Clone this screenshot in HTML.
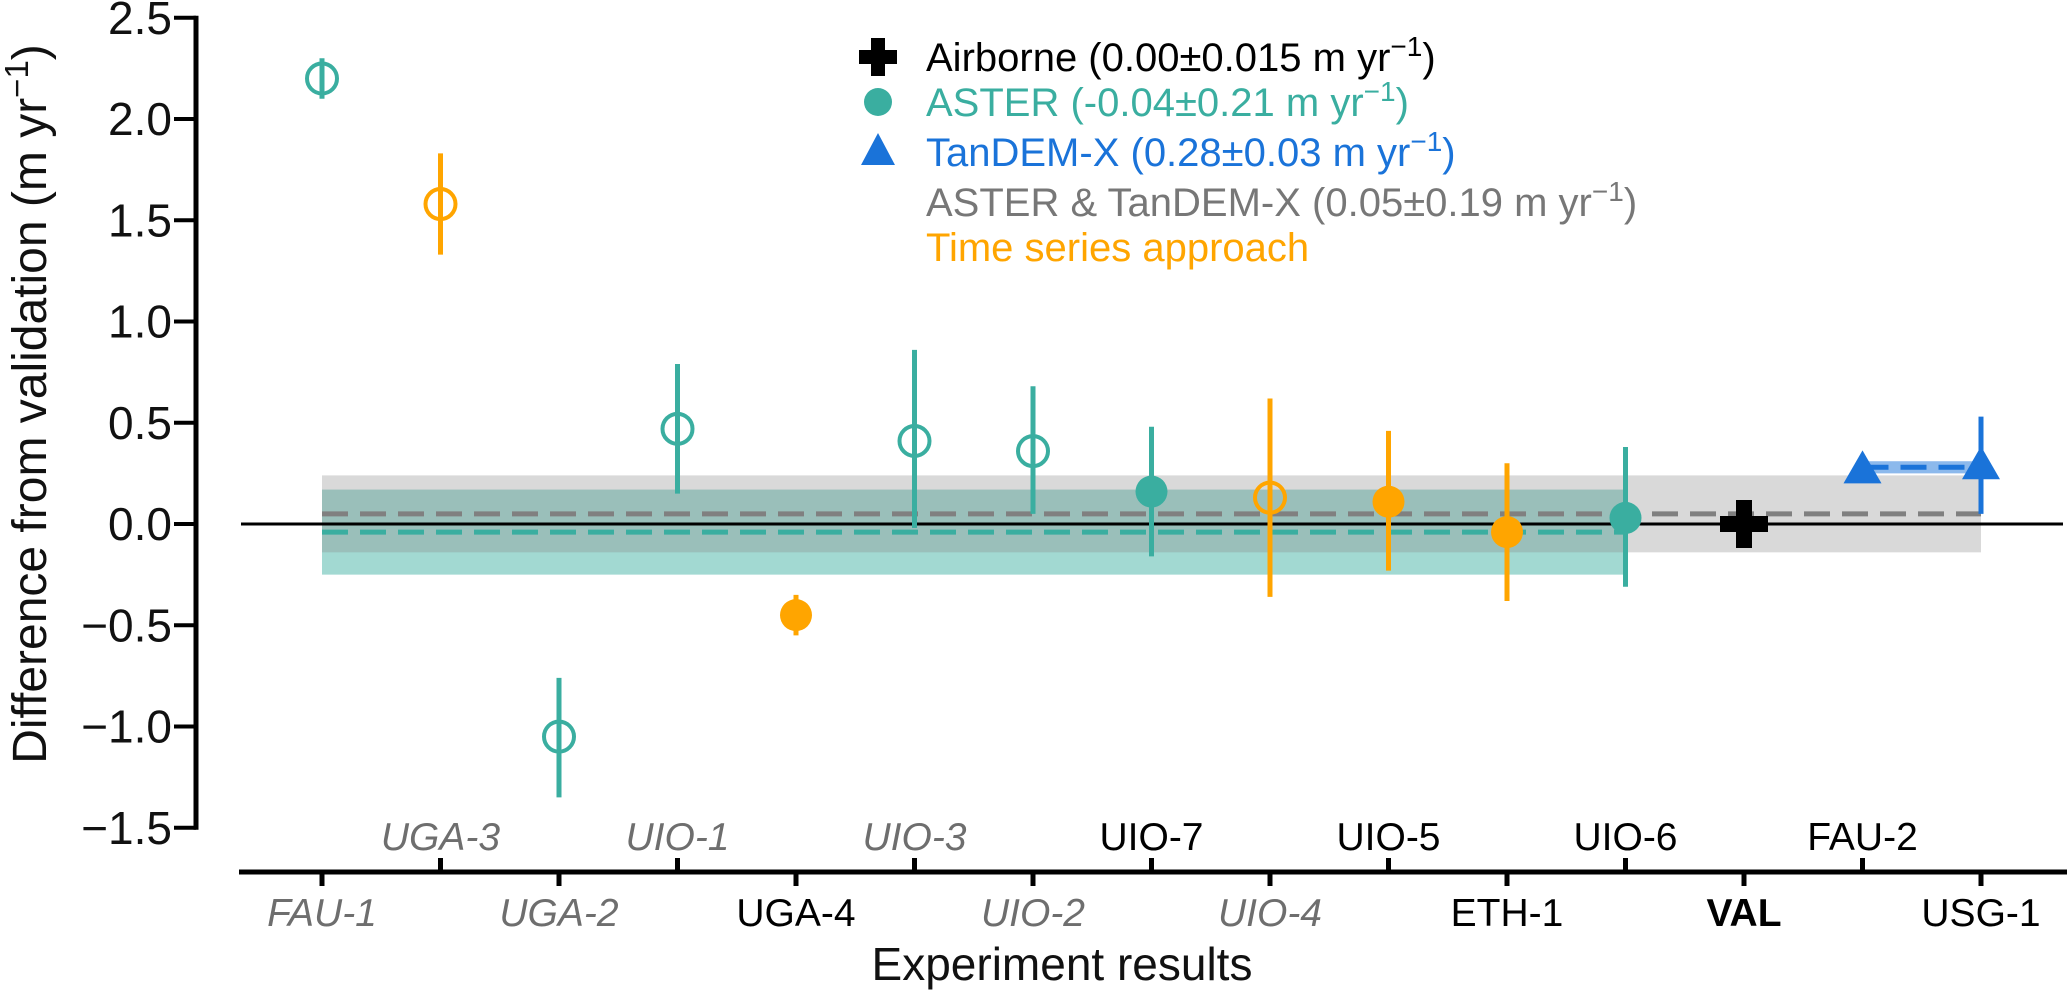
<!DOCTYPE html>
<html><head><meta charset="utf-8"><style>
html,body{margin:0;padding:0;background:#fff;}
svg{display:block;font-family:"Liberation Sans",sans-serif;}
</style></head><body>
<svg id="chart" width="2067" height="990" viewBox="0 0 2067 990"></svg>
<script>
const categories=["FAU-1","UGA-3","UGA-2","UIO-1","UGA-4","UIO-3","UIO-2","UIO-7","UIO-4","UIO-5","ETH-1","UIO-6","VAL","FAU-2","USG-1"];
const values=[2.20,1.58,-1.05,0.47,-0.45,0.41,0.36,0.16,0.13,0.11,-0.04,0.03,0.00,0.26,0.28];
const errLow=[2.10,1.33,-1.35,0.15,-0.55,-0.02,0.05,-0.16,-0.36,-0.23,-0.38,-0.31,0,0.26,0.05];
const errHigh=[2.30,1.83,-0.76,0.79,-0.35,0.86,0.68,0.48,0.62,0.46,0.30,0.38,0,0.26,0.53];
const kinds=["teal-open","orange-open","teal-open","teal-open","orange-fill","teal-open","teal-open","teal-fill","orange-open","orange-fill","orange-fill","teal-fill","plus","tri","tri"];
const labelStyle=["gray-it","gray-it","gray-it","gray-it","black","gray-it","gray-it","black","gray-it","black","black","black","bold","black","black"];
const yTicks=[2.5,2.0,1.5,1.0,0.5,0.0,-0.5,-1.0,-1.5];
const asterMean=-0.04, asterStd=0.21;
const combMean=0.05, combStd=0.19;
const tdxMean=0.28, tdxStd=0.03;

const NS="http://www.w3.org/2000/svg";
const svg=document.getElementById('chart');
const X0=322, DX=118.5;
const Y0=524, PY=202.5;
const xs=i=>X0+i*DX;
const ys=v=>Y0-v*PY;
const TEAL="#3aaea0", ORANGE="#ffa500", BLUE="#1a73d9", GRAY="#808080";
function el(tag,attrs,parent){const e=document.createElementNS(NS,tag);for(const k in attrs)e.setAttribute(k,attrs[k]);(parent||svg).appendChild(e);return e;}

let b=el('rect',{x:xs(0),y:ys(asterMean+asterStd),width:xs(11)-xs(0),height:ys(asterMean-asterStd)-ys(asterMean+asterStd),fill:TEAL,'fill-opacity':0.47});

b=el('rect',{x:xs(0),y:ys(combMean+combStd),width:xs(14)-xs(0),height:ys(combMean-combStd)-ys(combMean+combStd),fill:'#888','fill-opacity':0.32});

b=el('rect',{x:xs(13),y:ys(tdxMean+tdxStd),width:xs(14)-xs(13),height:ys(tdxMean-tdxStd)-ys(tdxMean+tdxStd),fill:BLUE,'fill-opacity':0.5});

b=el('line',{x1:241,x2:2063,y1:ys(0),y2:ys(0),stroke:'#000','stroke-width':3});

b=el('line',{x1:xs(0),x2:xs(14),y1:ys(combMean),y2:ys(combMean),stroke:GRAY,'stroke-width':5,'stroke-dasharray':'26 12'});

b=el('line',{x1:xs(0),x2:xs(11),y1:ys(asterMean),y2:ys(asterMean),stroke:TEAL,'stroke-width':5,'stroke-dasharray':'26 12'});

b=el('line',{x1:xs(13),x2:xs(14),y1:ys(tdxMean),y2:ys(tdxMean),stroke:BLUE,'stroke-width':5,'stroke-dasharray':'26 12'});


categories.forEach((c,i)=>{
  const k=kinds[i], x=xs(i), y=ys(values[i]);
  const col=k.startsWith('teal')?TEAL:k.startsWith('orange')?ORANGE:k==='tri'?BLUE:'#000';
  const g=el('g',{});
  
  
  if(errHigh[i]!==errLow[i]){el('line',{x1:x,x2:x,y1:ys(errHigh[i]),y2:ys(errLow[i]),stroke:col,'stroke-width':5},g);}
  if(k.endsWith('open')) el('circle',{cx:x,cy:y,r:15,fill:'none',stroke:col,'stroke-width':4},g);
  else if(k.endsWith('fill')) el('circle',{cx:x,cy:y,r:16,fill:col},g);
  else if(k==='tri') el('polygon',{points:`${x},${y-21} ${x-19},${y+12} ${x+19},${y+12}`,fill:col},g);
  else if(k==='plus') el('path',{d:`M${x-8},${y-24}h16v16h16v16h-16v16h-16v-16h-16v-16h16z`,fill:'#000'},g);
});

b=el('line',{x1:196,x2:196,y1:ys(2.5)-2,y2:ys(-1.5)+2,stroke:'#000','stroke-width':5});

yTicks.forEach(v=>{
  el('line',{x1:174,x2:196,y1:ys(v),y2:ys(v),stroke:'#000','stroke-width':4});
  const t=el('text',{x:172,y:ys(v)+16,'text-anchor':'end','font-size':46,fill:'#111'});
  t.textContent=(v<0?'\u2212':'')+Math.abs(v).toFixed(1);
  
});
let yt=el('text',{transform:'translate(46,404) rotate(-90)','text-anchor':'middle','font-size':48,fill:'#111'});
yt.innerHTML='Difference from validation (m yr<tspan dy="-18" font-size="33">\u22121</tspan><tspan dy="18">)</tspan>';


const XA=872;
b=el('line',{x1:239,x2:2067,y1:XA,y2:XA,stroke:'#000','stroke-width':5});

categories.forEach((c,i)=>{
  const x=xs(i), up=i%2===1;
  el('line',{x1:x,x2:x,y1:up?XA-14:XA,y2:up?XA:XA+14,stroke:'#000','stroke-width':5});
  const st=labelStyle[i];
  const t=el('text',{x:x,y:up?850:926,'text-anchor':'middle','font-size':39,fill:st==='gray-it'?'#6e6e6e':'#000','font-style':st==='gray-it'?'italic':'normal','font-weight':st==='bold'?'bold':'normal'});
  t.textContent=c;
  
});
let xt=el('text',{x:1062,y:980,'text-anchor':'middle','font-size':46,fill:'#111'});
xt.textContent='Experiment results';


const lg=el('g',{});

const legRows=[
 ['Airborne (0.00\u00b10.015 m yr','#000','plus'],
 ['ASTER (-0.04\u00b10.21 m yr',TEAL,'circ'],
 ['TanDEM-X (0.28\u00b10.03 m yr',BLUE,'tri'],
 ['ASTER &amp; TanDEM-X (0.05\u00b10.19 m yr','#777',''],
 ['Time series approach',ORANGE,'']
];
const legY=[57,102,152,202,247];
legRows.forEach((r,i)=>{
  const y=legY[i], mx=878;
  if(r[2]==='plus') el('path',{d:`M${mx-7},${y-19}h14v12h12v14h-12v12h-14v-12h-12v-14h12z`,fill:'#000'},lg);
  if(r[2]==='circ') el('circle',{cx:mx,cy:y,r:14,fill:TEAL},lg);
  if(r[2]==='tri') el('polygon',{points:`${mx},${y-19} ${mx-17},${y+13} ${mx+17},${y+13}`,fill:BLUE},lg);
  const t=el('text',{x:926,y:y+14,'font-size':40,fill:r[1]},lg);
  t.innerHTML=i<4?r[0]+'<tspan dy="-15" font-size="28">\u22121</tspan><tspan dy="15">)</tspan>':r[0];
  
});
</script>
</body></html>
